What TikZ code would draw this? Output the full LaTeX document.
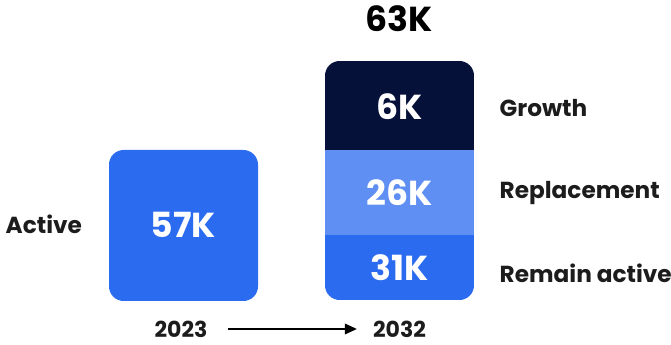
\documentclass[tikz,border=0pt]{standalone}
\usepackage{fontspec}
\setmainfont{Poppins}
\usetikzlibrary{arrows.meta}
\definecolor{midblue}{HTML}{2B6BF0}
\definecolor{paleblue}{HTML}{5F8FF2}
\definecolor{navy}{HTML}{06113A}
\definecolor{inkgrey}{HTML}{1C1C1C}
\tikzset{
  px/.style={x=0.75pt,y=-0.75pt},
  figure/.style={text=white,font=\fontsize{26}{26}\selectfont\bfseries},
  tag/.style={text=inkgrey,font=\fontsize{17.4}{17.4}\selectfont\bfseries,anchor=west},
  year/.style={text=inkgrey,font=\fontsize{16.5}{16.5}\selectfont\bfseries,inner sep=0pt},
}
\begin{document}
\begin{tikzpicture}[px]
\useasboundingbox (0,0) rectangle (671,345);
% 2023 column
\fill[midblue,rounded corners=11pt] (109,150) rectangle (258,301);
\node[figure] (active) at (183.5,225) {57K};
% 2032 stacked column
\begin{scope}
\clip[rounded corners=11pt] (325,61) rectangle (474,300);
\fill[navy] (325,61) rectangle (474,150);
\fill[paleblue] (325,150) rectangle (474,235);
\fill[midblue] (325,235) rectangle (474,300);
\end{scope}
\node[figure] (growth) at (399.5,107) {6K};
\node[figure] (repl) at (399.5,193) {26K};
\node[figure] (remain) at (399.5,268) {31K};
\node[text=black,font=\fontsize{26}{26}\selectfont\bfseries] (total) at (399.5,19) {63K};
% row labels
\node[tag] (lgrowth) at (495,108) {Growth};
\node[tag] (lrepl) at (495,193) {Replacement};
\node[tag] (lremain) at (495,273) {Remain active};
\node[tag] (lactive) at (1,224) {Active};
% timeline
\node[year] (y1) at (181,329) {2023};
\node[year] (y2) at (399.5,329) {2032};
\draw[line width=1.1pt,shorten <=15pt,shorten >=12pt,-{Triangle[length=9pt,width=8pt]}] (y1.east) -- (y2.west);
\end{tikzpicture}
\end{document}
